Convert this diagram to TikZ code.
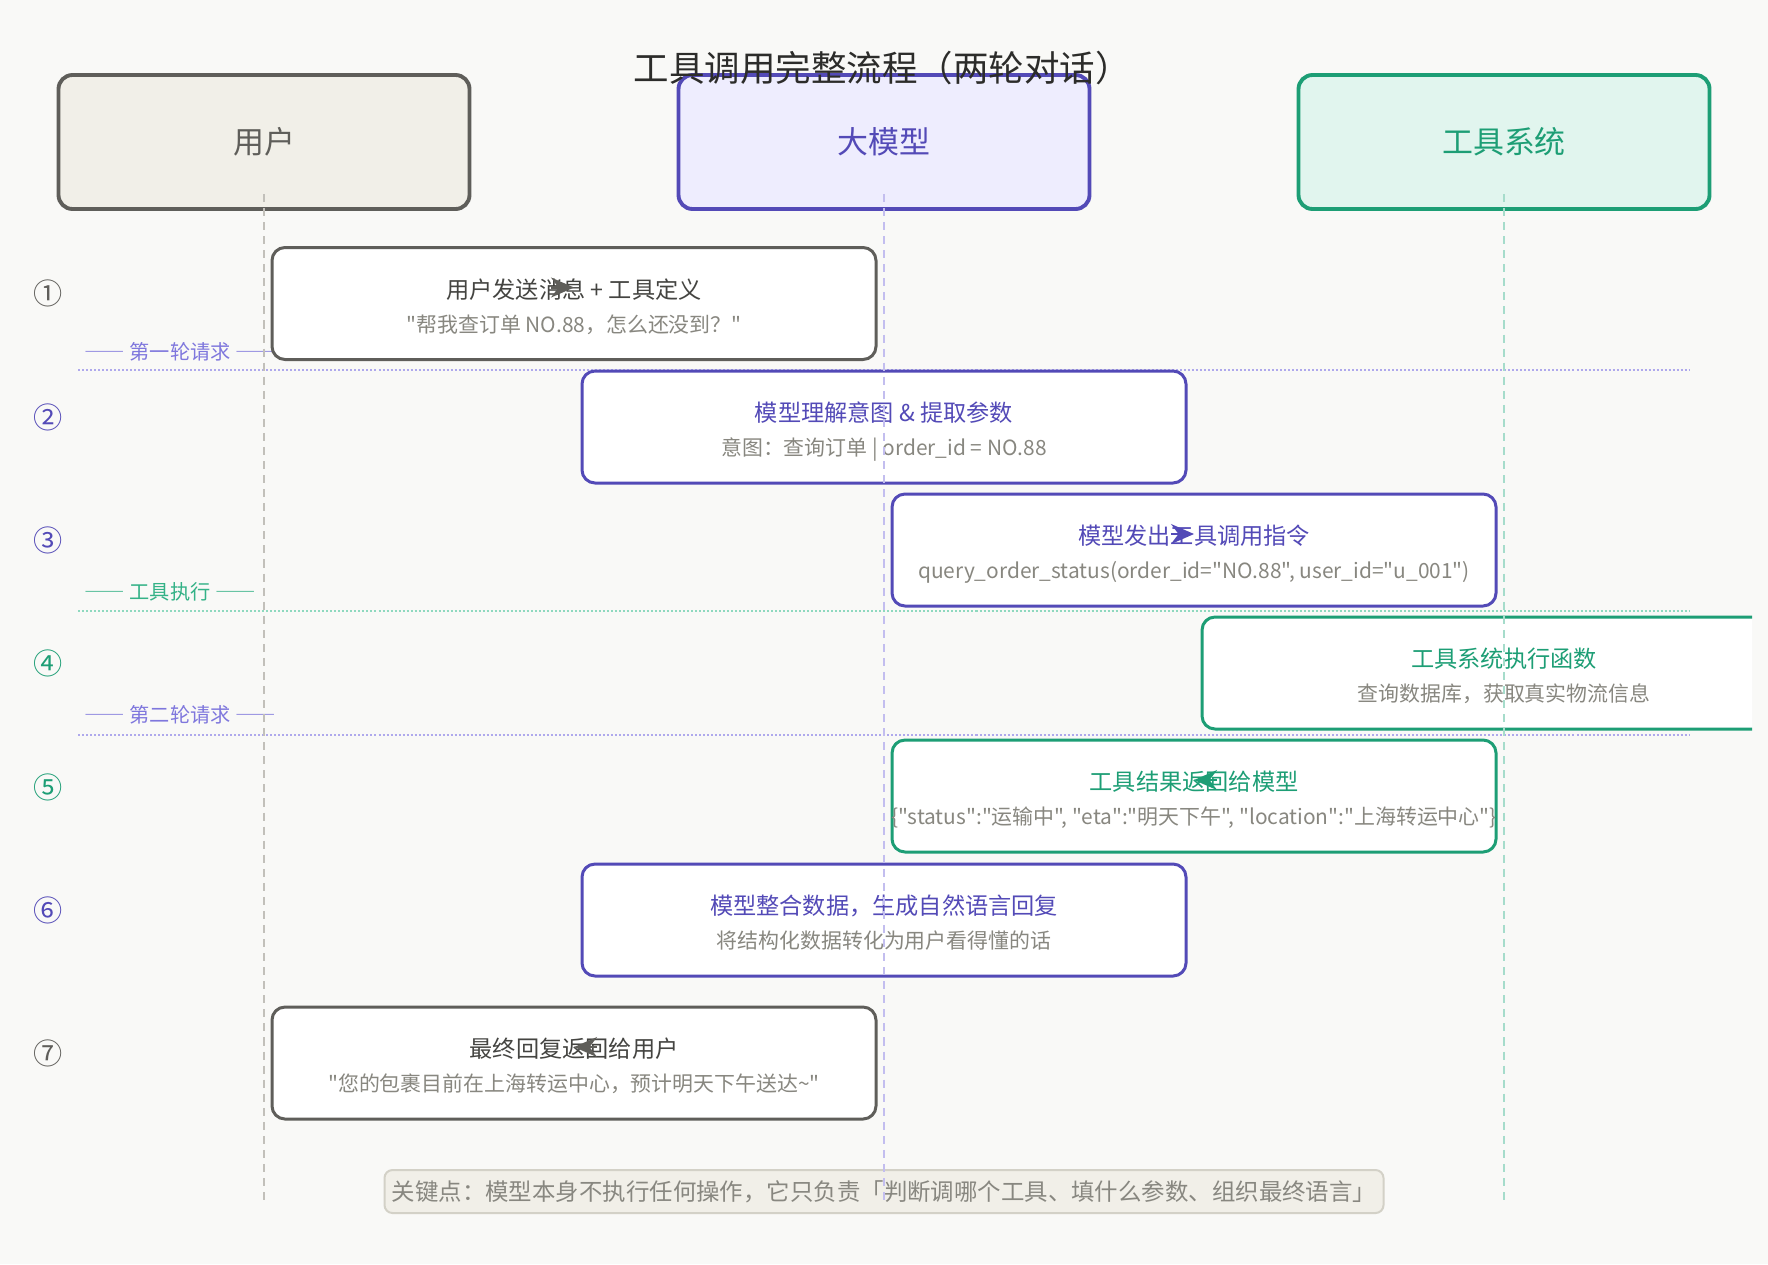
\documentclass[tikz,border=0pt]{standalone}
\usepackage{fontspec}
\setmainfont{Noto Sans CJK SC}[Ligatures=TeXOff]
\newfontfamily\widedash{Noto Sans CJK SC}[RawFeature=+fwid]
\usepackage{tikz}
\usetikzlibrary{arrows.meta}
\definecolor{bgpaper}{HTML}{F9F9F7}
\definecolor{inktitle}{HTML}{2C2C2A}
\definecolor{inkdark}{HTML}{444441}
\definecolor{inkgray}{HTML}{888780}
\definecolor{usergray}{HTML}{5F5E5A}
\definecolor{userfill}{HTML}{F1EFE8}
\definecolor{userlife}{HTML}{C2C0BA}
\definecolor{llmpurple}{HTML}{534AB7}
\definecolor{llmfill}{HTML}{EEEDFE}
\definecolor{llmlife}{HTML}{C3BEEF}
\definecolor{llmdot}{HTML}{AFA9EC}
\definecolor{llmlabel}{HTML}{7F77DD}
\definecolor{toolgreen}{HTML}{1D9E75}
\definecolor{toolfill}{HTML}{E1F5EE}
\definecolor{toollife}{HTML}{A6DCCB}
\definecolor{tooldot}{HTML}{8FD9BF}
\definecolor{toollabel}{HTML}{34B287}
\definecolor{noteline}{HTML}{D3D1C7}
\begin{document}
\begin{tikzpicture}[>=Stealth,
  actor/.style={draw=#1, line width=1.1pt, rounded corners=0.14cm, minimum width=4.11cm, minimum height=1.34cm, text=#1, font=\fontsize{8.8}{10.5}\selectfont},
  stepbox/.style={draw=#1, fill=white, line width=0.85pt, rounded corners=0.13cm, minimum width=6.04cm, minimum height=1.12cm},
  boxtitle/.style={text=#1, font=\fontsize{6.6}{8}\selectfont, text height=.88em, text depth=.12em, inner sep=0pt},
  boxsub/.style={text=inkgray, font=\fontsize{5.95}{7}\selectfont, text height=.88em, text depth=.12em, inner sep=0pt},
  stepnum/.style={text=#1, font=\fontsize{8.3}{10}\selectfont, inner sep=0pt},
  lifeline/.style={draw=#1, line width=0.57pt, dash pattern=on 2.3pt off 1.7pt},
  sepline/.style={draw=#1, line width=0.57pt, dash pattern=on 0.57pt off 0.57pt},
  seplabel/.style={anchor=west, text=#1, font=\fontsize{5.75}{6.9}\selectfont, inner sep=0pt},
  msgtip/.style={-{Stealth[length=2.3mm,width=2mm]}, draw=#1, line width=0.6pt}]
\useasboundingbox (0,0) rectangle (17.68,-12.64);
\fill[bgpaper] (0,0) rectangle (17.68,-12.64);
\node[actor=usergray, fill=userfill] (user) at (2.64,-1.42) {用户};
\node[actor=llmpurple, fill=llmfill] (llm) at (8.84,-1.42) {大模型};
\node[actor=toolgreen, fill=toolfill] (tool) at (15.04,-1.42) {工具系统};
\node[text=inktitle, font=\fontsize{10.1}{12}\selectfont] (title) at (8.82,-0.685) {工具调用完整流程（两轮对话）};
\draw[sepline=llmdot] (0.78,-3.695) -- (16.90,-3.695);
\draw[sepline=tooldot] (0.78,-6.11) -- (16.90,-6.11);
\draw[sepline=llmdot] (0.78,-7.345) -- (16.90,-7.345);
\node[seplabel=llmlabel] (round1) at (0.84,-3.52) {{\widedash ——} 第一轮请求 {\widedash ——}};
\node[seplabel=toollabel] (exec) at (0.84,-5.92) {{\widedash ——} 工具执行 {\widedash ——}};
\node[seplabel=llmlabel] (round2) at (0.84,-7.15) {{\widedash ——} 第二轮请求 {\widedash ——}};
\node[stepnum=usergray] (n1) at (0.48,-2.93) {①};
\node[stepnum=llmpurple] (n2) at (0.48,-4.17) {②};
\node[stepnum=llmpurple] (n3) at (0.48,-5.40) {③};
\node[stepnum=toolgreen] (n4) at (0.48,-6.63) {④};
\node[stepnum=toolgreen] (n5) at (0.48,-7.87) {⑤};
\node[stepnum=llmpurple] (n6) at (0.48,-9.10) {⑥};
\node[stepnum=usergray] (n7) at (0.48,-10.53) {⑦};
\node[stepbox=usergray] (s1) at (5.74,-3.035) {};
\node[stepbox=llmpurple] (s2) at (8.84,-4.27) {};
\node[stepbox=llmpurple] (s3) at (11.94,-5.50) {};
\begin{scope}
  \clip (0,0) rectangle (17.52,-12.64);
  \node[stepbox=toolgreen] (s4) at (15.04,-6.73) {};
\end{scope}
\node[stepbox=toolgreen] (s5) at (11.94,-7.96) {};
\node[stepbox=llmpurple] (s6) at (8.84,-9.20) {};
\node[stepbox=usergray] (s7) at (5.74,-10.63) {};
\node[boxtitle=inkdark] (t1) at ([yshift=0.185cm]s1.center) {用户发送消息 + 工具定义};
\node[boxsub] (d1) at ([yshift=-0.155cm]s1.center) {"帮我查订单 NO.88，怎么还没到？"};
\node[boxtitle=llmpurple] (t2) at ([yshift=0.185cm]s2.center) {模型理解意图 \& 提取参数};
\node[boxsub] (d2) at ([yshift=-0.155cm]s2.center) {意图：查询订单 | order\_id = NO.88};
\node[boxtitle=llmpurple] (t3) at ([yshift=0.185cm]s3.center) {模型发出工具调用指令};
\node[boxsub] (d3) at ([yshift=-0.155cm]s3.center) {query\_order\_status(order\_id="NO.88", user\_id="u\_001")};
\node[boxtitle=toolgreen] (t4) at ([yshift=0.185cm]s4.center) {工具系统执行函数};
\node[boxsub] (d4) at ([yshift=-0.155cm]s4.center) {查询数据库，获取真实物流信息};
\node[boxtitle=toolgreen] (t5) at ([yshift=0.185cm]s5.center) {工具结果返回给模型};
\node[boxsub] (d5) at ([yshift=-0.155cm]s5.center) {\{"status":"运输中", "eta":"明天下午", "location":"上海转运中心"\}};
\node[boxtitle=llmpurple] (t6) at ([yshift=0.185cm]s6.center) {模型整合数据，生成自然语言回复};
\node[boxsub] (d6) at ([yshift=-0.155cm]s6.center) {将结构化数据转化为用户看得懂的话};
\node[boxtitle=inkdark] (t7) at ([yshift=0.185cm]s7.center) {最终回复返回给用户};
\node[boxsub] (d7) at ([yshift=-0.155cm]s7.center) {"您的包裹目前在上海转运中心，预计明天下午送达\textasciitilde"};
\node[fill=userfill, draw=noteline, line width=0.57pt, rounded corners=0.08cm, minimum width=9.99cm, minimum height=0.43cm, inner sep=0pt, text=inkgray, font=\fontsize{6.67}{8}\selectfont] (note) at (8.84,-11.915)
  {关键点：模型本身不执行任何操作，它只负责「判断调哪个工具、填什么参数、组织最终语言」};
\coordinate (userend) at (2.64,-12.04);
\coordinate (llmend) at (8.84,-12.04);
\coordinate (toolend) at (15.04,-12.04);
\draw[lifeline=userlife] ([yshift=0.17cm]user.south) -- (userend);
\draw[lifeline=llmlife] ([yshift=0.17cm]llm.south) -- (llmend);
\draw[lifeline=toollife] ([yshift=0.17cm]tool.south) -- (toolend);
\draw[msgtip=usergray] ([xshift=-2.3mm,yshift=0.16cm]s1.center) -- ([yshift=0.16cm]s1.center);
\draw[msgtip=llmpurple] ([xshift=-2.3mm,yshift=0.16cm]s3.center) -- ([yshift=0.16cm]s3.center);
\draw[msgtip=toolgreen] ([xshift=2.3mm,yshift=0.16cm]s5.center) -- ([yshift=0.16cm]s5.center);
\draw[msgtip=usergray] ([xshift=2.3mm,yshift=0.16cm]s7.center) -- ([yshift=0.16cm]s7.center);
\end{tikzpicture}
\end{document}
